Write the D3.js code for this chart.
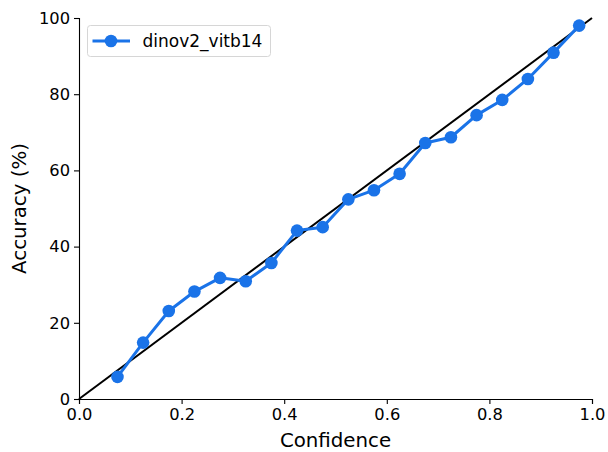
<!DOCTYPE html>
<html>
<head>
<meta charset="utf-8">
<script src="https://cdn.jsdelivr.net/npm/d3@7"></script>
<style>
  body { margin: 0; background: #fff; }
  text { font-family: "DejaVu Sans", sans-serif; fill: #000; }
</style>
</head>
<body>
<script>
// data
const confidence = [0.075, 0.125, 0.175, 0.225, 0.275, 0.325, 0.375, 0.425, 0.475, 0.525,
                    0.575, 0.625, 0.675, 0.725, 0.775, 0.825, 0.875, 0.925, 0.975];
const accuracy = [5.8, 14.8, 23.1, 28.2, 31.8, 30.9, 35.7, 44.2, 45.1, 52.4,
                  54.8, 59.1, 67.2, 68.7, 74.5, 78.5, 84.0, 90.9, 98.0];
const seriesName = "dinov2_vitb14";
const xTicks = [0, 0.2, 0.4, 0.6, 0.8, 1.0];
const yTicks = [0, 20, 40, 60, 80, 100];

const points = confidence.map((c, i) => ({ x: c, y: accuracy[i] }));

// set up chart
const W = 608, H = 452;
const margin = { top: 18, right: 16, bottom: 53, left: 79 },
      width = W - margin.left - margin.right,
      height = H - margin.top - margin.bottom;

const svg = d3.select('body')
    .append('svg')
        .attr('width', W)
        .attr('height', H);

const g = svg.append('g')
    .attr('transform', `translate(${margin.left}, ${margin.top})`);

const x = d3.scaleLinear().domain([0, 1]).range([0, width]);
const y = d3.scaleLinear().domain([0, 100]).range([height, 0]);

// perfect calibration line
g.append('line')
    .attr('x1', x(0)).attr('y1', y(0))
    .attr('x2', x(1)).attr('y2', y(100))
    .attr('stroke', '#000')
    .attr('stroke-width', 2);

// series
const blue = '#1a73e8';
g.append('path')
    .datum(points)
    .attr('fill', 'none')
    .attr('stroke', blue)
    .attr('stroke-width', 3)
    .attr('stroke-linejoin', 'round')
    .attr('d', d3.line().x(d => x(d.x)).y(d => y(d.y)));

g.selectAll('circle.pt')
    .data(points)
    .enter()
    .append('circle')
        .attr('class', 'pt')
        .attr('cx', d => x(d.x))
        .attr('cy', d => y(d.y))
        .attr('r', 6.3)
        .attr('fill', blue);

// axes
const xAxis = g.append('g')
    .attr('transform', `translate(0, ${height})`)
    .call(d3.axisBottom(x).tickValues(xTicks).tickFormat(d3.format('.1f')).tickSizeOuter(0).tickSize(5).tickPadding(4));
const yAxis = g.append('g')
    .call(d3.axisLeft(y).tickValues(yTicks).tickFormat(d3.format('d')).tickSizeOuter(0).tickSize(5).tickPadding(4));

[xAxis, yAxis].forEach(a => {
    a.selectAll('text').attr('font-size', '16.3px').style('font-family', '"DejaVu Sans", sans-serif');
    a.selectAll('line, path').attr('stroke', '#000').attr('stroke-width', 1.1);
    a.attr('font-family', null);
});

// axis labels
g.append('text')
    .attr('x', width / 2)
    .attr('y', height + 48)
    .attr('font-size', '19.8px')
    .attr('text-anchor', 'middle')
    .text('Confidence');

g.append('text')
    .attr('transform', `translate(${-53}, ${height / 2}) rotate(-90)`)
    .attr('font-size', '19.8px')
    .attr('text-anchor', 'middle')
    .text('Accuracy (%)');

// legend
const lg = g.append('g').attr('transform', 'translate(8.5, 7.5)');
lg.append('rect')
    .attr('width', 183).attr('height', 31)
    .attr('rx', 3)
    .attr('fill', '#fff')
    .attr('fill-opacity', 0.8)
    .attr('stroke', '#d6d6d6')
    .attr('stroke-width', 1);
lg.append('line')
    .attr('x1', 5).attr('x2', 42.5)
    .attr('y1', 15.5).attr('y2', 15.5)
    .attr('stroke', blue).attr('stroke-width', 3);
lg.append('circle')
    .attr('cx', 23.5).attr('cy', 15.5).attr('r', 6.3)
    .attr('fill', blue);
lg.append('text')
    .attr('x', 55).attr('y', 21.5)
    .attr('font-size', '17px')
    .text(seriesName);
</script>
</body>
</html>
